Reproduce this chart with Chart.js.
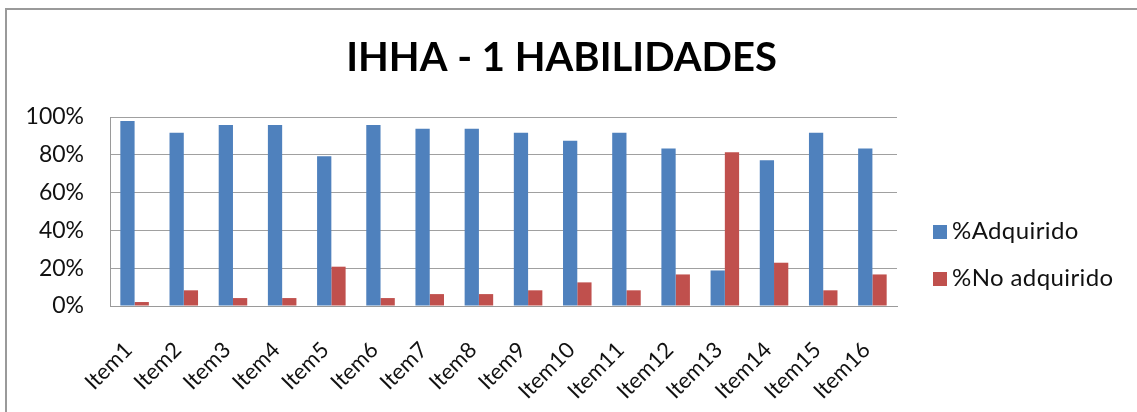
<!DOCTYPE html>
<html>
<head>
<meta charset="utf-8">
<script src="https://cdn.jsdelivr.net/npm/chart.js@4.4.1/dist/chart.umd.min.js"></script>
<style>
  html, body { margin: 0; padding: 0; background: #fff; overflow: hidden; }
  #wrap { position: relative; width: 1137px; height: 412px; }
  #chart { display: block; }
  #legend { position: absolute; left: 933px; top: 206px; margin: 0; padding: 0; list-style: none;
            font-family: Lato, "Open Sans", sans-serif; font-size: 24px; letter-spacing: 0.4px; color: #111; }
  #legend li { height: 47px; line-height: 47px; white-space: nowrap; }
  #legend span { display: inline-block; width: 14px; height: 14px; margin-right: 5px; vertical-align: 0px; }
</style>
</head>
<body>
<div id="wrap">
  <canvas id="chart" width="1137" height="412"></canvas>
  <ul id="legend"></ul>
</div>
<script>
// datos
const items = ['Item1', 'Item2', 'Item3', 'Item4', 'Item5', 'Item6', 'Item7', 'Item8',
               'Item9', 'Item10', 'Item11', 'Item12', 'Item13', 'Item14', 'Item15', 'Item16'];
const adquirido   = [97.9, 91.7, 95.8, 95.8, 79.2, 95.8, 93.8, 93.8, 91.7, 87.5, 91.7, 83.3, 18.8, 77.1, 91.7, 83.3];
const noAdquirido = [2.1, 8.3, 4.2, 4.2, 20.8, 4.2, 6.3, 6.3, 8.3, 12.5, 8.3, 16.7, 81.3, 22.9, 8.3, 16.7];
const yTicks = [0, 20, 40, 60, 80, 100];

const FONT = 'Lato, "Open Sans", "Liberation Sans", sans-serif';

// marco gris del gráfico (borde izquierdo y superior)
const framePlugin = {
    id: 'frame',
    beforeDraw(chart) {
        const ctx = chart.ctx;
        ctx.save();
        ctx.fillStyle = '#ffffff';
        ctx.fillRect(0, 0, chart.width, chart.height);
        ctx.strokeStyle = '#9a9a9a';
        ctx.lineWidth = 2;
        ctx.beginPath();
        ctx.moveTo(6, chart.height);
        ctx.lineTo(6, 9);
        ctx.lineTo(chart.width + 2, 9);
        ctx.stroke();
        ctx.restore();
    }
};

// reserva espacio a la derecha para la leyenda sin mover el título
const legendSpace = {
    id: 'legendSpace',
    beforeInit(chart) {
        Chart.layouts.addBox(chart, {
            position: 'right',
            weight: 0,
            fullSize: false,
            options: {},
            width: 0,
            height: 0,
            isHorizontal() { return false; },
            update(maxWidth, maxHeight) { this.width = 216; this.height = maxHeight; },
            draw() {}
        });
    }
};

const chart = new Chart(document.getElementById('chart'), {
    type: 'bar',
    data: {
        labels: items,
        datasets: [
            {
                label: '%Adquirido',
                data: adquirido,
                backgroundColor: '#4f81bd',
                categoryPercentage: 0.58,
                barPercentage: 1.0
            },
            {
                label: '%No adquirido',
                data: noAdquirido,
                backgroundColor: '#c0504d',
                categoryPercentage: 0.58,
                barPercentage: 1.0
            }
        ]
    },
    options: {
        responsive: false,
        animation: false,
        layout: { padding: { left: 10, right: 24, top: 0, bottom: 6 } },
        plugins: {
            title: {
                display: true,
                text: 'IHHA - 1 HABILIDADES',
                color: '#000',
                font: { family: FONT, size: 40, weight: 'bold' },
                padding: { top: 34, bottom: 35 }
            },
            legend: { display: false },
            tooltip: { enabled: false }
        },
        scales: {
            x: {
                grid: { display: false, drawTicks: false },
                border: { color: '#9a9a9a', width: 1 },
                ticks: {
                    color: '#111',
                    font: { family: FONT, size: 22 },
                    maxRotation: 45,
                    minRotation: 45,
                    padding: 31,
                    labelOffset: -6
                },
                afterFit(s) { s.height = 100; }
            },
            y: {
                min: 0,
                max: 100,
                afterBuildTicks(s) { s.ticks = yTicks.map(v => ({ value: v })); },
                grid: { color: '#a0a0a0', drawTicks: false },
                border: { color: '#9a9a9a', width: 1 },
                ticks: {
                    color: '#111',
                    font: { family: FONT, size: 23 },
                    padding: 26,
                    callback: v => v + '%'
                },
                afterFit(s) { s.width = 100; }
            }
        }
    },
    plugins: [framePlugin, legendSpace]
});

// leyenda en HTML a partir de los datasets
const legendEl = document.getElementById('legend');
chart.options.plugins.legend.labels.generateLabels(chart).forEach(item => {
    const li = document.createElement('li');
    const box = document.createElement('span');
    box.style.background = item.fillStyle;
    li.appendChild(box);
    li.appendChild(document.createTextNode(item.text));
    legendEl.appendChild(li);
});
</script>
</body>
</html>
